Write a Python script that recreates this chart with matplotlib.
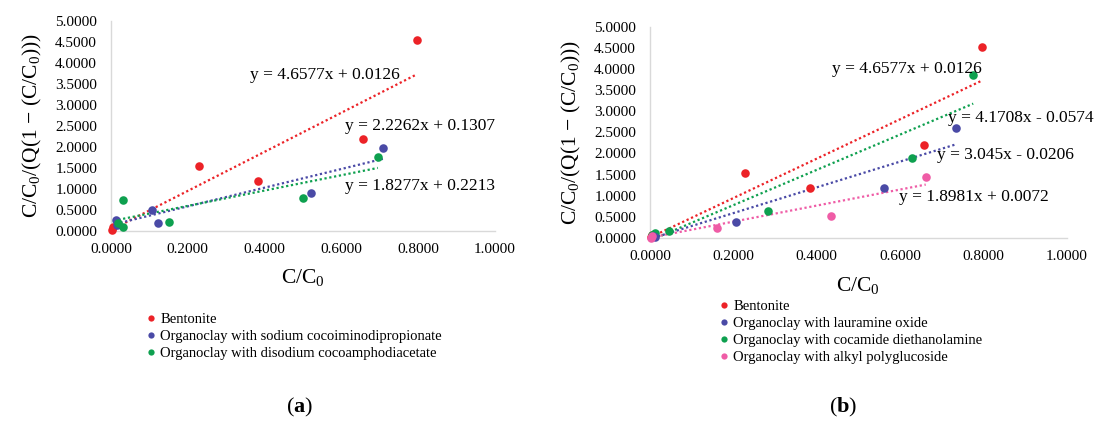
import matplotlib.pyplot as plt
from matplotlib.lines import Line2D
import numpy as np

plt.rcParams['font.family'] = ['Liberation Serif', 'DejaVu Serif']
plt.rcParams['mathtext.fontset'] = 'custom'
plt.rcParams['mathtext.rm'] = 'Liberation Serif'
plt.rcParams['mathtext.it'] = 'Liberation Serif'
plt.rcParams['mathtext.bf'] = 'Liberation Serif:bold'

# colours of the series
red = '#ec2227'
blue = '#4a4aa6'
green = '#0ea04f'
pink = '#ef5ca6'

# (a) bentonite and two organoclays
bent_x = [0.796, 0.657, 0.383, 0.229, 0.004, 0.003]
bent_y = [4.53, 2.19, 1.19, 1.54, 0.08, 0.02]

a_blue_x = [0.708, 0.521, 0.106, 0.123, 0.012, 0.016]
a_blue_y = [1.97, 0.90, 0.50, 0.17, 0.25, 0.13]

a_green_x = [0.695, 0.500, 0.151, 0.031, 0.019, 0.031]
a_green_y = [1.75, 0.78, 0.21, 0.72, 0.19, 0.09]

# (b) bentonite and three organoclays
b_blue_x = [0.735, 0.563, 0.207, 0.008, 0.012]
b_blue_y = [2.61, 1.19, 0.37, 0.04, 0.02]

b_green_x = [0.776, 0.630, 0.283, 0.045, 0.013, 0.006]
b_green_y = [3.86, 1.89, 0.63, 0.16, 0.13, 0.06]

b_pink_x = [0.662, 0.435, 0.161, 0.004, 0.002]
b_pink_y = [1.44, 0.52, 0.23, 0.04, 0.01]

# trend line coefficients
a_slopes = [4.6577, 2.2262, 1.8277]
a_icepts = [0.0126, 0.1307, 0.2213]
a_eqs = ['y = 4.6577x + 0.0126', 'y = 2.2262x + 0.1307', 'y = 1.8277x + 0.2213']

b_slopes = [4.6577, 3.045, 4.1708, 1.8981]
b_icepts = [0.0126, -0.0206, -0.0574, 0.0072]
b_eqs = ['y = 4.6577x + 0.0126', 'y = 3.045x - 0.0206', 'y = 4.1708x - 0.0574', 'y = 1.8981x + 0.0072']

a_names = ['Bentonite', 'Organoclay with sodium cocoiminodipropionate',
           'Organoclay with disodium cocoamphodiacetate']
b_names = ['Bentonite', 'Organoclay with lauramine oxide',
           'Organoclay with cocamide diethanolamine', 'Organoclay with alkyl polyglucoside']

x_ticks = np.arange(0, 1.01, 0.2)
y_ticks = np.arange(0, 5.01, 0.5)

ylab = r'C/C$_0$/(Q(1 $-$ (C/C$_0$)))'
xlab = r'C/C$_0$'

fig = plt.figure(figsize=(10.97, 4.24), dpi=100)
ax1 = fig.add_axes([111 / 1097, 1 - 230.5 / 424, 384 / 1097, 209.8 / 424])
ax2 = fig.add_axes([650 / 1097, 1 - 238 / 424, 416.5 / 1097, 211.3 / 424])


def style(ax):
    ax.set_xlim(0, 1.0)
    ax.set_ylim(0, 5.0)
    ax.set_xticks(x_ticks)
    ax.set_yticks(y_ticks)
    ax.set_xticklabels(['%.4f' % v for v in x_ticks])
    ax.set_yticklabels(['%.4f' % v for v in y_ticks])
    ax.tick_params(axis='both', length=0, labelsize=11)
    ax.tick_params(axis='x', pad=9)
    ax.tick_params(axis='y', pad=10)
    for s in ['top', 'right']:
        ax.spines[s].set_visible(False)
    for s in ['left', 'bottom']:
        ax.spines[s].set_color('#d9d9d9')
        ax.spines[s].set_linewidth(1.0)
    ax.set_ylabel(ylab, fontsize=15.5, labelpad=8)
    ax.set_xlabel(xlab, fontsize=15.5, labelpad=8)


def series(ax, xs, ys, slope, icept, color):
    ax.scatter(xs, ys, s=38, color=color, zorder=3, linewidths=0, clip_on=False)
    lx = np.array([min(xs), max(xs)])
    ax.plot(lx, slope * lx + icept, color=color, linestyle=(0, (1, 1.2)), lw=1.6, zorder=2)


style(ax1)
series(ax1, bent_x, bent_y, a_slopes[0], a_icepts[0], red)
series(ax1, a_blue_x, a_blue_y, a_slopes[1], a_icepts[1], blue)
series(ax1, a_green_x, a_green_y, a_slopes[2], a_icepts[2], green)
ax1.text(0.362, 3.70, a_eqs[0], fontsize=12.5, va='center')
ax1.text(0.609, 2.48, a_eqs[1], fontsize=12.5, va='center')
ax1.text(0.609, 1.06, a_eqs[2], fontsize=12.5, va='center')

style(ax2)
series(ax2, bent_x, bent_y, b_slopes[0], b_icepts[0], red)
series(ax2, b_green_x, b_green_y, b_slopes[2], b_icepts[2], green)
series(ax2, b_blue_x, b_blue_y, b_slopes[1], b_icepts[1], blue)
series(ax2, b_pink_x, b_pink_y, b_slopes[3], b_icepts[3], pink)
ax2.text(0.437, 4.00, b_eqs[0], fontsize=12.5, va='center')
ax2.text(0.716, 2.84, b_eqs[2], fontsize=12.5, va='center')
ax2.text(0.690, 1.97, b_eqs[1], fontsize=12.5, va='center')
ax2.text(0.598, 0.97, b_eqs[3], fontsize=12.5, va='center')


def handles(colors):
    return [Line2D([], [], marker='o', linestyle='none', markersize=4.5,
                   markerfacecolor=c, markeredgewidth=0) for c in colors]


leg_kw = dict(frameon=False, fontsize=10.5, handlelength=0.6, handletextpad=0.3,
              labelspacing=0.25, borderpad=0, borderaxespad=0, loc='upper left')
fig.legend(handles([red, blue, green]), a_names,
           bbox_to_anchor=(147 / 1097, 1 - 313 / 424), **leg_kw)
fig.legend(handles([red, blue, green, pink]), b_names,
           bbox_to_anchor=(720 / 1097, 1 - 300 / 424), **leg_kw)

fig.text(300 / 1097, 1 - 407 / 424, r'($\mathbf{a}$)', fontsize=16, ha='center', va='center')
fig.text(843 / 1097, 1 - 407 / 424, r'($\mathbf{b}$)', fontsize=16, ha='center', va='center')

fig.savefig('out.png', dpi=100)
